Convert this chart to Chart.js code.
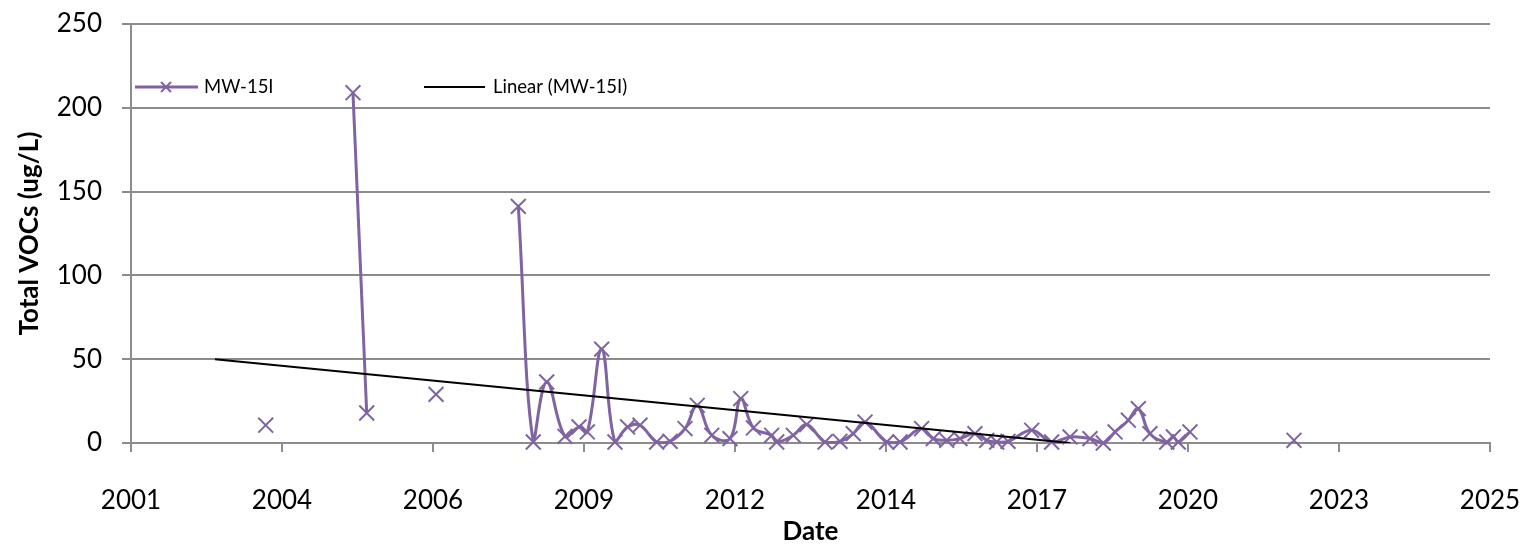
<!DOCTYPE html>
<html>
<head>
<meta charset="utf-8">
<script src="https://cdn.jsdelivr.net/npm/chart.js@4.4.1/dist/chart.umd.min.js"></script>
<style>
  html, body { margin: 0; padding: 0; background: #fff; }
  #wrap { position: relative; width: 1528px; height: 547px; }
</style>
</head>
<body>
<div id="wrap"><canvas id="c"></canvas></div>
<script>
// ---- data ----
const seriesName = 'MW-15I';
const trendName = 'Linear (MW-15I)';

const sampleDates = [
  '2003-09-28', '2004-06-01',
  '2005-04-28', '2005-07-28', '2006-03-01',
  '2006-10-30', '2007-08-01',
  '2008-04-27', '2008-08-04', '2008-11-01', '2009-03-02', '2009-06-03', '2009-07-28',
  '2009-10-31', '2010-01-27', '2010-04-21', '2010-07-12', '2010-10-30', '2011-01-27',
  '2011-05-06', '2011-07-26', '2011-10-30', '2012-02-28', '2012-05-09', '2012-08-01',
  '2012-11-30', '2013-01-02', '2013-04-22', '2013-07-20', '2013-11-18', '2014-02-25',
  '2014-05-24', '2014-08-10', '2014-12-31', '2015-03-30', '2015-08-20', '2015-11-05',
  '2016-02-02', '2016-04-30', '2016-08-07', '2016-10-24', '2016-12-29', '2017-03-14',
  '2017-08-18', '2017-12-28', '2018-04-29', '2018-09-08', '2018-12-05', '2019-02-21',
  '2019-05-20', '2019-07-25', '2019-10-10', '2020-01-29', '2020-03-13', '2020-04-15',
  '2020-07-01', '2021-06-01',
  '2022-05-21'
];
// null = no reported value (line break)
const totalVOCs = [
  10.6, null,
  209, 17.9, null,
  29, null,
  141.2, 0.6, 36.4, 4, 9.6, 6.6,
  56, 0.6, 9.6, 10.6, 0.6, 1,
  8.6, 22.5, 4.6, 2.6, 26.5, 9,
  4.6, 0.6, 4.6, 11, 0.6, 1,
  5.6, 12.5, 0.6, 0.6, 8.6, 2.6,
  1.6, 2.6, 5.6, 1.6, 0.6, 1,
  7.6, 0.6, 3.6, 2.6, 0, 6.6,
  13.6, 20.5, 5.6, 0.6, 3.6, 0.6,
  6.6, null,
  1.6
];

const trendDates = ['2002-10-27', '2018-04-30'];
const trendValues = [50, 0];

const xTickLabels = ['2001', '2004', '2006', '2009', '2012', '2014', '2017', '2020', '2023', '2025'];
const xMinSerial = 37000, xMaxSerial = 46000, xStepDays = 1000;
const yTicks = [0, 50, 100, 150, 200, 250];

// ---- helpers ----
function toSerial(s) {
  const [y, m, d] = s.split('-').map(Number);
  return (Date.UTC(y, m - 1, d) - Date.UTC(1899, 11, 30)) / 86400000;
}

const PURPLE = '#8064A2';
const GRID = '#8c8c8c';
const FONT = 'Lato, "Open Sans", sans-serif';

const mainData = sampleDates.map((d, i) => ({ x: toSerial(d), y: totalVOCs[i] }));
const trendData = trendDates.map((d, i) => ({ x: toSerial(d), y: trendValues[i] }));

const insideLegend = {
  id: 'insideLegend',
  afterDraw(chart) {
    const ctx = chart.ctx;
    const a = chart.chartArea;
    const y = a.top + 63;
    ctx.save();
    ctx.strokeStyle = PURPLE;
    ctx.lineWidth = 3;
    ctx.beginPath();
    ctx.moveTo(a.left + 4, y);
    ctx.lineTo(a.left + 67, y);
    ctx.stroke();
    const mx = a.left + 35, r = 5;
    ctx.lineWidth = 2;
    ctx.beginPath();
    ctx.moveTo(mx - r, y - r); ctx.lineTo(mx + r, y + r);
    ctx.moveTo(mx + r, y - r); ctx.lineTo(mx - r, y + r);
    ctx.stroke();
    ctx.fillStyle = '#000';
    ctx.font = '18.5px ' + FONT;
    ctx.textBaseline = 'middle';
    ctx.textAlign = 'left';
    ctx.fillText(seriesName, a.left + 73, y);
    ctx.strokeStyle = '#000';
    ctx.lineWidth = 2;
    ctx.beginPath();
    ctx.moveTo(a.left + 293, y);
    ctx.lineTo(a.left + 354, y);
    ctx.stroke();
    ctx.fillText(trendName, a.left + 362, y);
    ctx.restore();
  }
};

Chart.defaults.font.family = FONT;
Chart.defaults.color = '#000';

new Chart(document.getElementById('c'), {
  type: 'line',
  data: {
    datasets: [
      {
        label: trendName,
        data: trendData,
        borderColor: '#000',
        borderWidth: 2,
        pointRadius: 0,
        tension: 0,
        order: 0
      },
      {
        label: seriesName,
        data: mainData,
        borderColor: PURPLE,
        backgroundColor: PURPLE,
        borderWidth: 3,
        pointStyle: 'crossRot',
        pointRadius: 10.5,
        pointBorderWidth: 2,
        pointBorderColor: PURPLE,
        tension: 0.4,
        spanGaps: false,
        clip: false,
        order: 1
      }
    ]
  },
  options: {
    responsive: true,
    maintainAspectRatio: false,
    animation: false,
    events: [],
    layout: { padding: { top: 24, right: 38, bottom: 0, left: 0 } },
    plugins: {
      legend: { display: false },
      tooltip: { enabled: false }
    },
    scales: {
      x: {
        type: 'linear',
        min: xMinSerial,
        max: xMaxSerial,
        afterFit(s) { s.height = 104; s.paddingLeft = 0; s.paddingRight = 0; },
        afterBuildTicks(s) {
          s.ticks = xTickLabels.map((_, i) => ({ value: xMinSerial + i * xStepDays }));
        },
        ticks: {
          autoSkip: false,
          maxRotation: 0,
          padding: 33,
          font: { size: 26 },
          callback: (v, i) => xTickLabels[i]
        },
        grid: {
          drawOnChartArea: false,
          drawTicks: true,
          tickLength: 9,
          color: GRID,
          lineWidth: 2
        },
        border: { display: true, color: GRID, width: 2 },
        title: {
          display: true,
          text: 'Date',
          font: { size: 26, weight: 'bold' },
          padding: { top: 0, bottom: 0 }
        }
      },
      y: {
        min: 0,
        max: 250,
        afterFit(s) { s.width = 131; s.paddingTop = 0; s.paddingBottom = 0; },
        afterBuildTicks(s) {
          s.ticks = yTicks.map(v => ({ value: v }));
        },
        ticks: {
          padding: 20,
          font: { size: 26 }
        },
        grid: {
          color: GRID,
          lineWidth: 2,
          tickLength: 9,
          drawTicks: true
        },
        border: { display: true, color: GRID, width: 2 },
        title: {
          display: true,
          text: 'Total VOCs (ug/L)',
          font: { size: 26, weight: 'bold' },
          padding: { top: 14, bottom: 0 }
        }
      }
    }
  },
  plugins: [insideLegend]
});
</script>
</body>
</html>
